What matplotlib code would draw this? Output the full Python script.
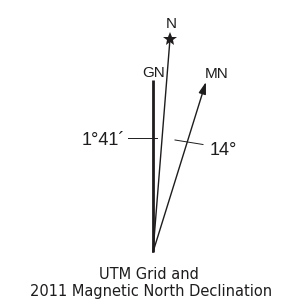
import numpy as np
import matplotlib.pyplot as plt

# drawn angles (degrees from grid north) and lengths in px; labels
line_names = ['GN', 'N', 'MN']
drawn_angles = [4.56, 17.3]
drawn_lengths = [213.7, 178]
declination_labels = ['1°41´', '14°']
title_lines = ['UTM Grid and', '2011 Magnetic North Declination']

plt.rcParams['font.family'] = ['Liberation Sans', 'DejaVu Sans']

fig = plt.figure(figsize=(2.85, 3.0), dpi=100)
ax = fig.add_axes([0, 0, 1, 1])
ax.set_xlim(0, 285)
ax.set_ylim(300, 0)
ax.axis('off')

ox, oy = 153, 252
col = '#1e1c1d'

# grid north
ax.plot([ox, ox], [oy, 80], color=col, lw=2.0, solid_capstyle='butt')
ax.text(153.5, 77, line_names[0], ha='center', va='baseline', fontsize=11, color=col)

# true north with star
a = np.radians(drawn_angles[0])
tx, ty = ox + drawn_lengths[0] * np.sin(a), oy - drawn_lengths[0] * np.cos(a)
ax.plot([ox, tx], [oy, ty], color=col, lw=1.0)
ax.plot(tx, ty, marker='*', color=col, ms=10.5, markeredgewidth=0)
ax.text(171, 28, line_names[1], ha='center', va='baseline', fontsize=11, color=col)

# magnetic north arrow
a = np.radians(drawn_angles[1])
mx, my = ox + drawn_lengths[1] * np.sin(a), oy - drawn_lengths[1] * np.cos(a)
ax.annotate('', xy=(mx, my), xytext=(ox, oy),
            arrowprops=dict(arrowstyle='-|>,head_length=0.7,head_width=0.22',
                            color=col, lw=1.0, shrinkA=0, shrinkB=0))
ax.text(216.5, 78, line_names[2], ha='center', va='baseline', fontsize=11, color=col)

# declination labels
ax.plot([128, 157], [138, 138], color=col, lw=0.7)
ax.text(125, 145, declination_labels[0], ha='right', va='baseline', fontsize=13, color=col)
ax.plot([175, 203], [140, 144.5], color=col, lw=0.7)
ax.text(210, 155, declination_labels[1], ha='left', va='baseline', fontsize=13, color=col)

ax.text(149, 279, title_lines[0], ha='center', va='baseline', fontsize=10.5,
        family='DejaVu Sans', color=col)
ax.text(151.5, 296, title_lines[1], ha='center', va='baseline', fontsize=10.5,
        family='DejaVu Sans', color=col)

fig.savefig('out.png', dpi=100)
